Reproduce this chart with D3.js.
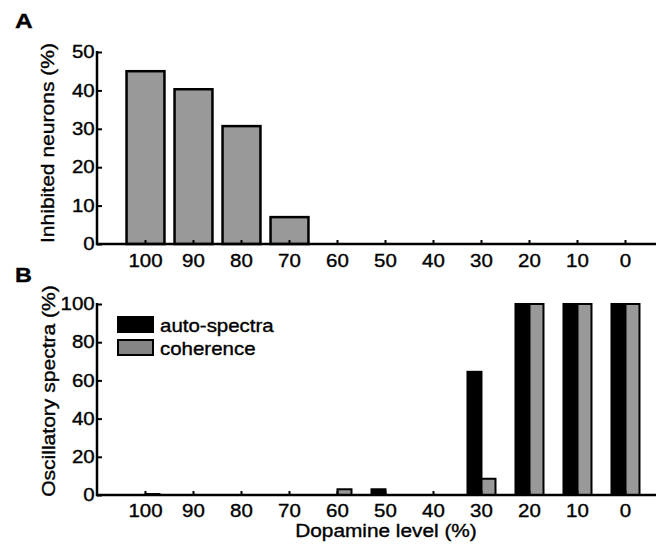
<!DOCTYPE html>
<html>
<head>
<meta charset="utf-8">
<script src="https://cdn.jsdelivr.net/npm/d3@7"></script>
<style>
  body { margin: 0; background: #fff; }
  text { font-family: "Liberation Sans", Arial, sans-serif; fill: #000; stroke: #000; stroke-width: 0.35px; }
</style>
</head>
<body>
<svg id="chart" width="663" height="545"></svg>
<script>
// data
const levels = ["100", "90", "80", "70", "60", "50", "40", "30", "20", "10", "0"];
const inhibited = [45, 40.3, 30.7, 7, 0, 0, 0, 0, 0, 0, 0];
const autoSpectra = [0, 0, 0, 0, 0, 3, 0, 64.5, 100, 100, 100];
const coherence = [0.5, 0, 0, 0, 3, 0, 0, 8.5, 100, 100, 100];
const seriesKeys = ["auto-spectra", "coherence"];
const ticksA = [0, 10, 20, 30, 40, 50];
const ticksB = [0, 20, 40, 60, 80, 100];

const svg = d3.select("#chart");
const stretch = 1.17;   // the figure's font is wider than Arial
const left = 97, right = 656;
const grey = "#999999";

const x = d3.scaleBand()
    .domain(levels)
    .range([left, right])
    .paddingInner(0)
    .paddingOuter(0.323)
    .align(0.79);

function styleAxis(g) {
  g.select(".domain").remove();
  g.selectAll(".tick line").attr("stroke", "#000").attr("stroke-width", 2);
  g.selectAll(".tick text")
    .attr("font-size", 17.5)
    .attr("fill", "#000")
    .attr("font-family", "Liberation Sans, Arial, sans-serif");
}

function drawFrame(y, bottom, ticks, yTitle, titleY, titleX, pad) {
  // x axis
  const xa = svg.append("g")
      .attr("transform", `translate(0,${bottom})`)
      .call(d3.axisBottom(x).tickSizeInner(-4).tickSizeOuter(0).tickPadding(pad));
  styleAxis(xa);
  xa.selectAll(".tick text").attr("transform", `scale(${stretch},1)`);
  svg.append("line")
      .attr("x1", left).attr("x2", right)
      .attr("y1", bottom).attr("y2", bottom)
      .attr("stroke", "#000").attr("stroke-width", 2.5);

  // y axis
  const ya = svg.append("g")
      .attr("transform", `translate(${left},0)`)
      .call(d3.axisLeft(y).tickValues(ticks).tickSizeInner(-5).tickSizeOuter(0).tickPadding(2));
  styleAxis(ya);
  ya.selectAll(".tick text").attr("transform", `scale(${stretch},1)`);
  svg.append("line")
      .attr("x1", left).attr("x2", left)
      .attr("y1", y(ticks[ticks.length - 1]) - 1).attr("y2", bottom + 1.25)
      .attr("stroke", "#000").attr("stroke-width", 2.5);

  svg.append("text")
      .attr("transform", `translate(${titleX},${titleY}) rotate(-90) scale(${stretch},1)`)
      .attr("text-anchor", "middle")
      .attr("font-size", 18)
      .text(yTitle);
}

// ---------- panel A ----------
const yA = d3.scaleLinear().domain([0, 50]).range([244, 52]);
const barW = x.bandwidth() * 0.79;

svg.append("g").selectAll("rect")
  .data(levels.map((l, i) => ({ level: l, value: inhibited[i] })).filter(d => d.value > 0))
  .join("rect")
    .attr("x", d => x(d.level) + x.bandwidth() / 2 - barW / 2)
    .attr("y", d => yA(d.value))
    .attr("width", barW)
    .attr("height", d => yA(0) - yA(d.value))
    .attr("fill", grey)
    .attr("stroke", "#000")
    .attr("stroke-width", 2.5);

drawFrame(yA, 244, ticksA, "Inhibited neurons (%)", 143, 53.5, 11);

svg.append("text")
    .attr("transform", `translate(15,28.3) scale(${stretch},1)`)
    .attr("font-size", 21).attr("font-weight", "bold")
    .text("A");

// ---------- panel B ----------
const yB = d3.scaleLinear().domain([0, 100]).range([495, 304]);
const x1 = d3.scaleBand().domain(seriesKeys).range([-14, 14]);
const colors = d3.scaleOrdinal().domain(seriesKeys).range(["#000000", grey]);

const grouped = levels.map((l, i) => ({
  level: l,
  values: [
    { key: "auto-spectra", value: autoSpectra[i] },
    { key: "coherence", value: coherence[i] }
  ]
}));

svg.append("g").selectAll("g")
  .data(grouped)
  .join("g")
    .attr("transform", d => `translate(${x(d.level) + x.bandwidth() / 2},0)`)
  .selectAll("rect")
  .data(d => d.values.filter(v => v.value > 0))
  .join("rect")
    .attr("x", d => x1(d.key))
    .attr("y", d => yB(d.value))
    .attr("width", x1.bandwidth())
    .attr("height", d => yB(0) - yB(d.value))
    .attr("fill", d => colors(d.key))
    .attr("stroke", "#000")
    .attr("stroke-width", 2);

drawFrame(yB, 495, ticksB, "Oscillatory spectra (%)", 391, 54.5, 9.5);

svg.append("text")
    .attr("transform", `translate(15,281.7) scale(${stretch},1)`)
    .attr("font-size", 20).attr("font-weight", "bold")
    .text("B");

svg.append("text")
    .attr("transform", `translate(386,536.5) scale(${stretch + 0.02},1)`)
    .attr("text-anchor", "middle")
    .attr("font-size", 17.5)
    .text("Dopamine level (%)");

// legend
const legend = svg.append("g").attr("transform", "translate(118,317)");
const legendColors = ["#000000", "#858585"];
seriesKeys.forEach((k, i) => {
  const row = legend.append("g").attr("transform", `translate(0,${i * 23})`);
  row.append("rect")
      .attr("width", 35).attr("height", 15)
      .attr("fill", legendColors[i])
      .attr("stroke", "#000").attr("stroke-width", 2);
  row.append("text")
      .attr("transform", `translate(42,14.5) scale(${stretch},1)`)
      .attr("font-size", 17.5)
      .text(k);
});
</script>
</body>
</html>
